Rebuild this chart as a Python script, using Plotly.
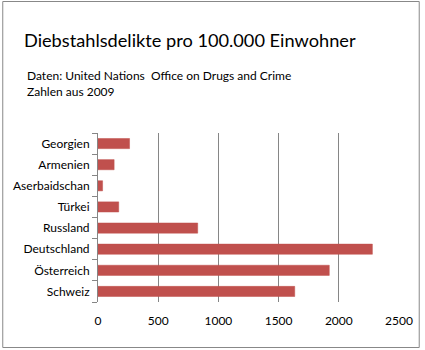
import plotly.graph_objects as go

countries = ["Georgien", "Armenien", "Aserbaidschan", "Türkei", "Russland",
             "Deutschland", "Österreich", "Schweiz"]
values = [262, 134, 38, 172, 828, 2279, 1921, 1634]
x_ticks = [0, 500, 1000, 1500, 2000, 2500]

W, H = 425, 350
L, R, T, B = 98, 22, 133, 48
pw, ph = W - L - R, H - T - B

def px(x):
    return (x - L) / pw

def py(y):
    return (H - B - y) / ph

fig = go.Figure(go.Bar(
    x=values, y=countries, orientation="h",
    marker=dict(color="#C0504D", line=dict(color="#C0504D", width=0.5)),
))

font = "Lato, 'Open Sans', sans-serif"
fig.update_layout(
    width=W, height=H,
    margin=dict(l=L, r=R, t=T, b=B),
    paper_bgcolor="white", plot_bgcolor="white",
    font=dict(family=font, color="#000000", size=12),
    showlegend=False,
    bargap=0.52,
    title=dict(text="Diebstahlsdelikte pro 100.000 Einwohner",
               x=24 / W, xanchor="left", xref="container",
               y=1 - 41 / H, yanchor="middle", yref="container",
               font=dict(size=18.2, family=font, color="#000000")),
    xaxis=dict(range=[0, 2500], tickvals=x_ticks, showgrid=True,
               gridcolor="#868686", gridwidth=1, zeroline=False,
               showline=False, ticks="", tickfont=dict(size=12),
               ticklabelstandoff=10, fixedrange=True),
    yaxis=dict(categoryorder="array", categoryarray=countries[::-1],
               showline=True, linecolor="#868686", linewidth=1,
               ticks="outside", tickson="boundaries", ticklen=5,
               tickcolor="#868686", showgrid=False,
               tickfont=dict(size=12), ticklabelstandoff=5),
    annotations=[
        dict(text="Daten: United Nations  Office on Drugs and Crime<br>Zahlen aus 2009",
             xref="paper", yref="paper", x=px(24), y=py(66),
             xanchor="left", yanchor="top", align="left", showarrow=False,
             font=dict(size=12, family=font, color="#000000")),
    ],
    shapes=[
        dict(type="rect", xref="paper", yref="paper",
             x0=px(1.5), x1=px(423.5), y0=py(347.5), y1=py(1.5),
             line=dict(color="#888888", width=1), layer="below"),
    ],
)

fig.write_html("out.html")
